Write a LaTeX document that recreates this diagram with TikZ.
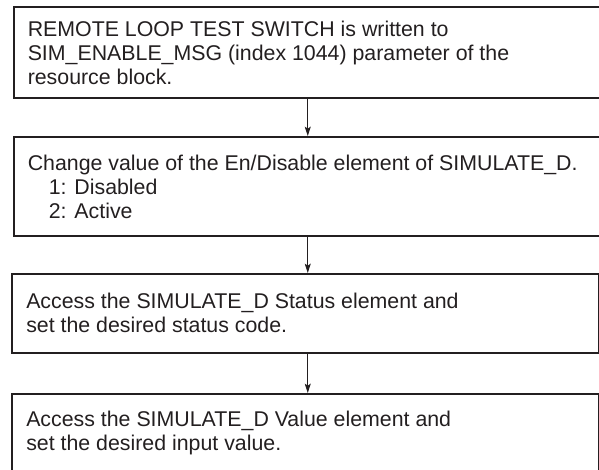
\documentclass[tikz,border=0pt]{standalone}
\usepackage{fontspec}
\setmainfont{Liberation Sans}
\usetikzlibrary{arrows.meta}
\definecolor{ink}{HTML}{231F20}
\begin{document}
\begin{tikzpicture}[x=0.75pt,y=-0.75pt,
  box/.style={draw=ink, line width=1.2pt, anchor=north west, inner sep=0pt},
  heavybox/.style={box, line width=1.5pt},
  txt/.style={anchor=west, align=left, inner sep=0pt, text=ink, font=\fontsize{16pt}{18pt}\selectfont},
  arr/.style={draw=ink, line width=0.8pt, -{Stealth[length=7pt,width=4.5pt,inset=1.5pt]}}]
\useasboundingbox (0,0) rectangle (599,469);
\node[heavybox, minimum width=441.4pt, minimum height=68.25pt] (b1) at (12.5,6) {};
\node[heavybox, minimum width=441.4pt, minimum height=74.25pt] (b2) at (12.5,136) {};
\node[box, minimum width=440.25pt, minimum height=59.25pt] (b3) at (11,273) {};
\node[box, minimum width=440.25pt, minimum height=59.25pt] (b4) at (11,393) {};
\node[txt] (t1) at ([xshift=11.25pt]b1.west) {REMOTE LOOP TEST SWITCH is written to\\SIM\_ENABLE\_MSG (index 1044) parameter of the\\resource block.};
\node[txt] (t2) at ([xshift=11.25pt]b2.west) {Change value of the En/Disable element of SIMULATE\_D.\\\hspace*{15.75pt}1: Disabled\\\hspace*{15.75pt}2: Active};
\node[txt] (t3) at ([xshift=11.25pt]b3.west) {Access the SIMULATE\_D Status element and\\set the desired status code.};
\node[txt] (t4) at ([xshift=11.25pt]b4.west) {Access the SIMULATE\_D Value element and\\set the desired input value.};
\draw[arr] (b1.south) -- (b2.north);
\draw[arr] (b2.south) -- (b2.south |- b3.north);
\draw[arr] (b3.south -| b2.south) -- (b2.south |- b4.north);
\end{tikzpicture}
\end{document}
